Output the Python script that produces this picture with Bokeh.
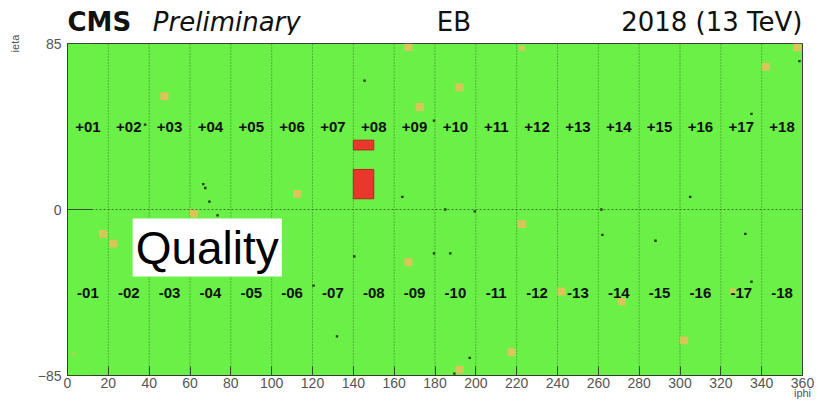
from bokeh.plotting import figure
from bokeh.models import Label, FixedTicker, Span, Range1d
from bokeh.layouts import column
from bokeh.core.properties import value
from bokeh.embed import file_html
from bokeh.resources import INLINE

# ---------------- data ----------------
x_ticks = [0, 20, 40, 60, 80, 100, 120, 140, 160, 180, 200, 220, 240, 260, 280, 300, 320, 340, 360]
y_ticks = [-85, 0, 85]

# supermodule centres (iphi) and labels
sm_phi = [10, 30, 50, 70, 90, 110, 130, 150, 170, 190, 210, 230, 250, 270, 290, 310, 330, 350]
sm_plus = ["+01", "+02", "+03", "+04", "+05", "+06", "+07", "+08", "+09",
           "+10", "+11", "+12", "+13", "+14", "+15", "+16", "+17", "+18"]
sm_minus = ["-01", "-02", "-03", "-04", "-05", "-06", "-07", "-08", "-09",
            "-10", "-11", "-12", "-13", "-14", "-15", "-16", "-17", "-18"]
sm_eta_plus = [42.5] * 18
sm_eta_minus = [-42.5] * 18

# supermodule boundaries (iphi)
sm_boundaries = [20, 40, 60, 80, 100, 120, 140, 160, 180, 200, 220, 240, 260, 280, 300, 320, 340]

# bad trigger towers (red)
red_phi_lo = [140, 140]
red_phi_hi = [150, 150]
red_eta_lo = [30.5, 5.5]
red_eta_hi = [35.5, 20.5]

# problematic channels (orange)
orange_phi = [167, 222.5, 357.5, 47.5, 192, 172.5, 342, 112.5, 62, 17.5, 22.5,
              167, 222.5, 217.5, 192, 242, 271.5, 302, 326, 3]
orange_eta = [83, 82.5, 83, 58, 62.5, 52.5, 73, 8, -2, -12.5, -17.5,
              -27, -7.5, -73, -82, -42, -47, -67, -42, -74]
orange_size = [4, 3, 4, 4, 4, 4, 4, 4, 4, 4, 4,
               4, 4, 4, 4, 4, 4, 4, 3, 2]
orange_alpha = [0.9, 0.8, 0.9, 0.9, 0.9, 0.9, 0.9, 0.9, 0.9, 0.9, 0.9,
                0.9, 0.9, 0.9, 0.9, 0.9, 0.9, 0.9, 0.8, 0.35]

# dead channels (dark dots)
dead_phi = [145.5, 66.5, 67.5, 69.5, 73.5, 164, 179.5, 358.5, 335, 305, 261.5,
            262, 288, 332, 335, 185, 199.5, 179.5, 187.5, 197, 189.5, 140.5,
            132, 120.5, 38]
dead_eta = [66, 13, 11, 4, -3, 6.5, 45.5, 76, 49, 6.5, 0,
            -13, -16, -12.5, -37, 0, -1, -22.5, -22.5, -76, -84, -24,
            -65, -39, 43.5]

# title texts and their iphi anchors
title_texts = ["CMS", "Preliminary", "EB", "2018 (13 TeV)"]
title_phi = [0, 41.8, 180.9, 360]
title_style = ["bold", "italic", "normal", "normal"]
title_align = ["left", "left", "left", "right"]

HEADER_H = 35
TOTAL_W, TOTAL_H = 819, 402
BORDER_L, BORDER_R = 67, 17

# ---------------- main map ----------------
p = figure(width=TOTAL_W, height=TOTAL_H - HEADER_H, x_range=(0, 360), y_range=(-85, 85),
           output_backend="svg", toolbar_location=None,
           min_border_left=BORDER_L, min_border_right=BORDER_R,
           min_border_top=43 - HEADER_H, min_border_bottom=27)
p.title.visible = False
p.background_fill_color = "#6af046"
p.border_fill_color = "white"
p.outline_line_color = "#3a3a3a"
p.outline_line_width = 1
p.grid.visible = False

# ---------------- header (title row), sharing the iphi range ----------------
head = figure(width=TOTAL_W, height=HEADER_H, x_range=p.x_range,
              y_range=Range1d(0, HEADER_H), output_backend="svg",
              toolbar_location=None, x_axis_location=None, y_axis_location=None,
              min_border_left=BORDER_L, min_border_right=BORDER_R,
              min_border_top=0, min_border_bottom=0)
head.title.visible = False
head.grid.visible = False
head.outline_line_color = None
head.background_fill_color = "white"
head.border_fill_color = "white"

for txt, ph, style, align in zip(title_texts, title_phi, title_style, title_align):
    head.add_layout(Label(x=ph, y=14, text=txt, text_font="DejaVu Sans",
                          text_font_style=style, text_font_size="26px",
                          text_color="#111111", text_align=align,
                          text_baseline="alphabetic"))

# axes
p.xaxis.ticker = FixedTicker(ticks=x_ticks)
p.yaxis.ticker = FixedTicker(ticks=y_ticks)
p.yaxis.major_label_overrides = {-85: "\u221285", 0: "0", 85: "85"}
for ax, tin in ((p.xaxis, 9), (p.yaxis, 25)):
    ax.major_tick_in = tin
    ax.major_tick_out = 0
    ax.minor_tick_line_color = None
    ax.major_tick_line_color = "#2f4f2a"
    ax.axis_line_color = "#3a3a3a"
    ax.major_label_text_font = "Liberation Sans"
    ax.major_label_text_font_size = "14px"
    ax.major_label_text_color = "#555555"
    ax.axis_label_text_font = "Liberation Sans"
    ax.axis_label_text_font_size = "11px"
    ax.axis_label_text_font_style = "normal"
    ax.axis_label_text_color = "#555555"
p.xaxis.major_label_standoff = 2
p.yaxis.major_label_standoff = 6
p.xaxis.axis_label = "iphi"
p.yaxis.axis_label = "ieta"
p.xaxis.axis_label_standoff = -4
p.yaxis.axis_label_standoff = 14
if "axis_label_align" in p.xaxis[0].properties():
    p.xaxis.axis_label_align = "end"
    p.yaxis.axis_label_align = "end"

# supermodule boundaries
p.segment(x0=sm_boundaries, y0=y_ticks[0], x1=sm_boundaries, y1=y_ticks[-1],
          line_color="#2a6a1e", line_alpha=0.85, line_width=1, line_dash="1 2")
p.add_layout(Span(location=0, dimension="width", line_color="#2a6a1e",
                  line_alpha=0.85, line_width=1, line_dash="2 2"))

# orange channels
p.rect(x=orange_phi, y=orange_eta, width=orange_size, height=orange_size,
       fill_color="#e6c15b", fill_alpha=orange_alpha, line_color=None)

# dead channels
p.rect(x=dead_phi, y=dead_eta, width=1.2, height=1.2,
       fill_color="#1c3f12", line_color=None)

# red towers
p.quad(left=red_phi_lo, right=red_phi_hi, bottom=red_eta_lo, top=red_eta_hi,
       fill_color="#e8372b", line_color="#b22a1e", line_width=1)

# supermodule labels
for labels, etas in ((sm_plus, sm_eta_plus), (sm_minus, sm_eta_minus)):
    p.text(x=sm_phi, y=etas, text=labels,
           text_font=value("Liberation Sans"), text_font_style="bold",
           text_font_size="15px", text_align="center", text_baseline="middle",
           text_color="#111111")

# overlay caption
p.add_layout(Label(x=31.9, y=-19.5, text="Quality", text_font="Liberation Sans",
                   text_font_size="46px", text_color="black",
                   text_baseline="alphabetic",
                   background_fill_color="white", background_fill_alpha=1.0,
                   padding=3))

layout = column(head, p, spacing=0)
open("out.html", "w").write(file_html(layout, INLINE))
